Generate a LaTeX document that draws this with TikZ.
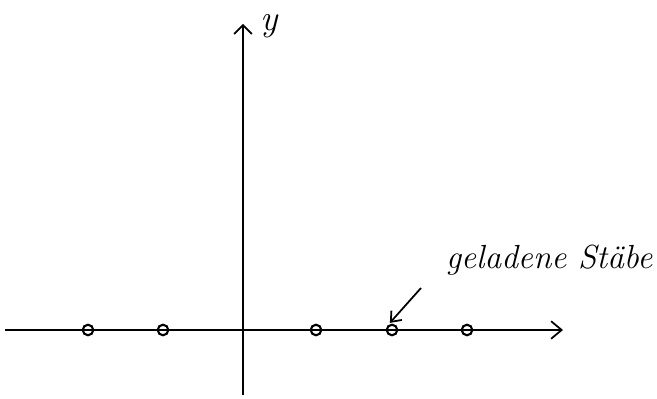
\documentclass[tikz,border=0pt]{standalone}
\usepackage{amsmath, amssymb}
\usepackage{tikz}
\usetikzlibrary{arrows.meta,calc,positioning}

\begin{document}
\begin{tikzpicture}[line width=1pt]
\useasboundingbox (0,0) rectangle (13.14,7.98);
\coordinate (xl) at (0.1,1.38);
\coordinate (xr) at (11.26,1.38);
\coordinate (yb) at (4.86,0.08);
\coordinate (yt) at (4.86,7.5);
\draw[-{Straight Barb[length=6pt,width=10pt]}] (xl) -- (xr);
\draw[-{Straight Barb[length=5pt,width=10pt]}] (yb) -- (yt);
\node[font=\huge\itshape] (ylab) at (5.38,7.45) {y};
\foreach \x [count=\i] in {1.76,3.26,6.32,7.84,9.34}
    \node[circle,draw,line width=1.2pt,inner sep=0pt,minimum size=6pt] (rod\i) at (\x,1.38) {};
\node[font=\fontsize{19}{23}\selectfont\itshape,anchor=east,inner sep=1pt] (lbl) at (13.1,2.78) {geladene St\"abe};
\coordinate (tail) at (8.42,2.22);
\draw[-{Straight Barb[length=5pt,width=8pt]},shorten >=2pt] (tail) -- (rod4.north west);
\end{tikzpicture}
\end{document}
